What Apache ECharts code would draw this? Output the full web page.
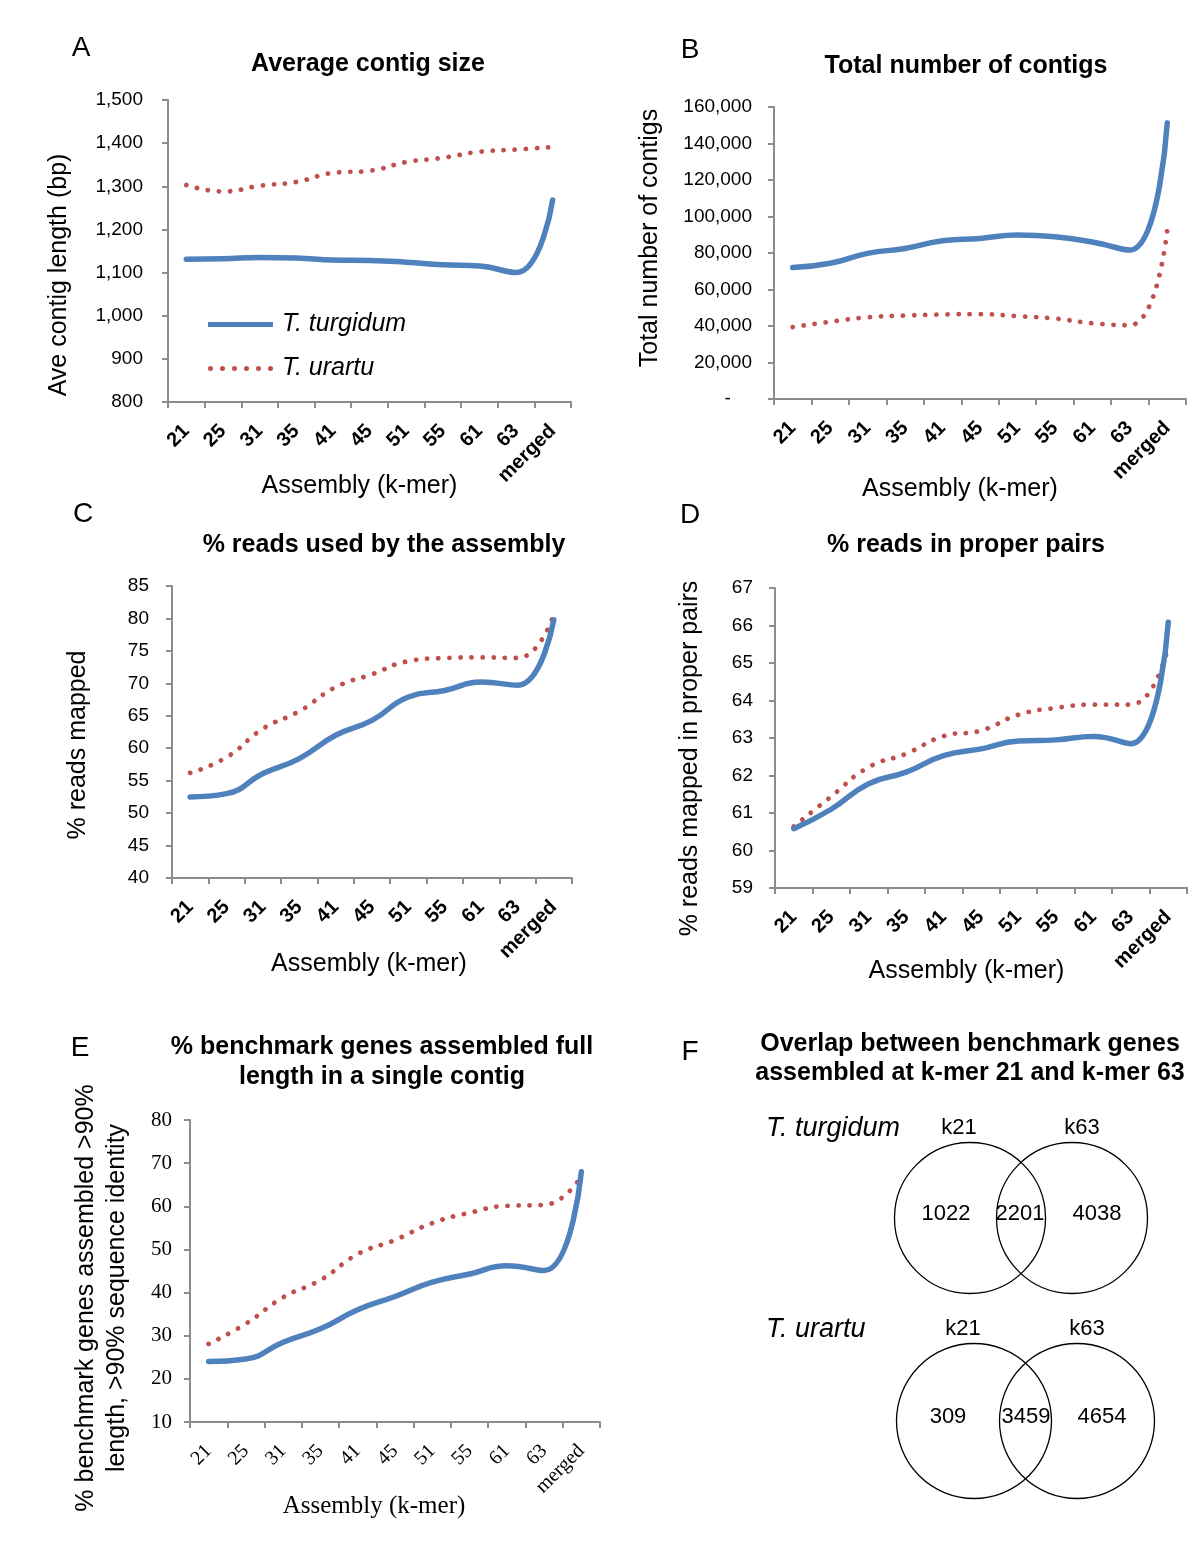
<!DOCTYPE html>
<html><head><meta charset="utf-8">
<script src="https://cdn.jsdelivr.net/npm/echarts@6/dist/echarts.min.js"></script>
<style>html,body{margin:0;padding:0;background:#fff}#c{width:1200px;height:1547px}</style>
</head><body><div id="c"></div>
<script>
// ---------- data ----------
const kmers = ['21','25','31','35','41','45','51','55','61','63','merged'];
const seriesNames = ['T. turgidum','T. urartu'];
const avgContigTurgidum = [1131,1132,1135,1134,1129,1128,1124,1118,1115,1100,1268];
const avgContigUrartu   = [1303,1288,1301,1310,1331,1336,1356,1366,1380,1385,1391];
const totalContigsTurgidum = [72000,74400,79800,82500,86700,88000,89800,88900,86000,81600,151300];
const totalContigsUrartu   = [39400,42300,44800,45700,46300,46500,45400,44100,41500,40400,92600];
const readsMappedTurgidum = [52.5,53.0,56.1,58.4,62.0,64.3,67.9,68.9,70.2,69.7,79.8];
const readsMappedUrartu   = [56.2,58.6,63.0,65.7,69.4,71.4,73.4,73.9,74.0,73.9,80.6];
const properPairsTurgidum = [60.58,61.1,61.78,62.09,62.53,62.71,62.92,62.95,63.04,62.85,66.09];
const properPairsUrartu   = [60.64,61.44,62.22,62.58,63.05,63.2,63.62,63.8,63.89,63.89,65.45];
const benchmarkTurgidum = [24.0,24.6,28.5,31.6,36.0,39.1,42.4,44.3,46.2,45.1,68.0];
const benchmarkUrartu   = [28.1,32.8,38.9,42.9,48.9,52.2,56.1,58.5,60.1,60.3,67.0];
const vennSets = ['k21','k63'];
const vennTurgidum = [1022,2201,4038];   // k21 only, both, k63 only
const vennUrartu   = [309,3459,4654];

// ---------- styles ----------
const BLUE = '#4F81BD', RED = '#C0504D', AXIS = '#8C8C8C';
const SANS = 'Liberation Sans', SERIF = 'Liberation Serif';
const comma = v => v.toLocaleString('en-US');

const panels = [
  {letter:'A', lx:81, ly:48, title:'Average contig size', tx:368, ty:64,
   grid:{left:168, top:100, width:403, height:302}, min:800, max:1500, interval:100, fmt:comma,
   yName:'Ave contig length (bp)', yGap:95, yPad:[0,48,0,0], xGap:70, xPad:[0,20,0,0], yMargin:25,
   data:[avgContigTurgidum, avgContigUrartu], font:SANS, bold:true, tickSize:19, catSize:20},
  {letter:'B', lx:690, ly:50, title:'Total number of contigs', tx:966, ty:66,
   grid:{left:774, top:107, width:412, height:292}, min:0, max:160000, interval:20000,
   fmt:v => v === 0 ? '-    ' : comma(v), yMargin:22,
   yName:'Total number of contigs', yGap:110, yPad:[0,0,0,30], xGap:76, xPad:[0,40,0,0],
   data:[totalContigsTurgidum, totalContigsUrartu], font:SANS, bold:true, tickSize:19, catSize:20},
  {letter:'C', lx:83, ly:514, title:'% reads used by the assembly', tx:384, ty:545,
   grid:{left:172, top:586, width:400, height:292}, min:40, max:85, interval:5, fmt:v => String(v), yMargin:23,
   yName:'% reads mapped', yGap:80, yPad:[0,26,0,0], xGap:72, xPad:[0,6,0,0],
   data:[readsMappedTurgidum, readsMappedUrartu], font:SANS, bold:true, tickSize:19, catSize:20},
  {letter:'D', lx:690, ly:515, title:'% reads in proper pairs', tx:966, ty:545,
   grid:{left:775, top:588, width:412, height:300}, min:59, max:67, interval:1, fmt:v => String(v), yMargin:22,
   yName:'% reads mapped in proper pairs', yGap:71, yPad:[0,41,0,0], xGap:69, xPad:[0,29,0,0],
   data:[properPairsTurgidum, properPairsUrartu], font:SANS, bold:true, tickSize:19, catSize:20},
  {letter:'E', lx:80, ly:1048, title:'% benchmark genes assembled full\nlength in a single contig', tx:382, ty:1062,
   grid:{left:190, top:1120, width:410, height:302}, min:10, max:80, interval:10, fmt:v => String(v), yMargin:18,
   yName:'% benchmark genes assembled >90%\nlength, >90% sequence identity', yGap:58, yPad:[0,54,0,0],
   yLineHeight:30.6, xGap:70, xPad:[0,42,0,0],
   data:[benchmarkTurgidum, benchmarkUrartu], font:SERIF, bold:false, tickSize:21, catSize:20}
];

const grids = [], xAxes = [], yAxes = [], series = [], graphics = [];
panels.forEach((p, i) => {
  grids.push(Object.assign({containLabel:false}, p.grid));
  xAxes.push({
    type:'category', gridIndex:i, data:kmers, boundaryGap:true,
    name:'Assembly (k-mer)', nameLocation:'middle', nameGap:p.xGap, nameMoveOverlap:false,
    nameTextStyle:{fontFamily:p.font, fontSize:25, color:'#000', lineHeight:28, padding:p.xPad},
    axisLine:{show:true, lineStyle:{color:AXIS, width:2}},
    axisTick:{show:true, alignWithLabel:false, length:6, inside:false, lineStyle:{color:AXIS, width:2}},
    axisLabel:{interval:0, rotate:45, margin:26, fontFamily:p.font, fontSize:p.catSize,
               fontWeight:p.bold ? 'bold' : 'normal', color:'#000'},
    splitLine:{show:false}
  });
  yAxes.push({
    type:'value', gridIndex:i, min:p.min, max:p.max, interval:p.interval,
    name:p.yName, nameLocation:'middle', nameGap:p.yGap, nameRotate:90, nameMoveOverlap:false,
    nameTextStyle:{fontFamily:SANS, fontSize:25, color:'#000', lineHeight:p.yLineHeight || 28, padding:p.yPad},
    axisLine:{show:true, lineStyle:{color:AXIS, width:2}},
    axisTick:{show:true, length:6, inside:false, lineStyle:{color:AXIS, width:2}},
    axisLabel:{formatter:p.fmt, margin:p.yMargin, fontFamily:p.font, fontSize:p.tickSize, color:'#000'},
    splitLine:{show:false}
  });
  series.push({
    type:'line', name:seriesNames[0], xAxisIndex:i, yAxisIndex:i, data:p.data[0],
    smooth:0.5, symbol:'none', z:3,
    lineStyle:{color:BLUE, width:5.5, cap:'round'}, itemStyle:{color:BLUE}
  });
  series.push({
    type:'line', name:seriesNames[1], xAxisIndex:i, yAxisIndex:i, data:p.data[1],
    smooth:0.5, symbol:'none', z:2,
    lineStyle:{color:RED, width:4.8, type:[0.1, 11], cap:'round'}, itemStyle:{color:RED}
  });
  graphics.push({type:'text', x:p.lx, y:p.ly,
    style:{text:p.letter, font:'28px "Liberation Sans"', fill:'#000', align:'center', verticalAlign:'middle'}});
  graphics.push({type:'text', x:p.tx, y:p.ty,
    style:{text:p.title, font:'bold 25px "Liberation Sans"', fill:'#000', align:'center', verticalAlign:'middle', lineHeight:30}});
});

// ---------- panel F (Venn) ----------
graphics.push({type:'text', x:690, y:1052,
  style:{text:'F', font:'28px "Liberation Sans"', fill:'#000', align:'center', verticalAlign:'middle'}});
graphics.push({type:'text', x:970, y:1059,
  style:{text:'Overlap between benchmark genes\nassembled at k-mer 21 and k-mer 63', font:'bold 25px "Liberation Sans"',
         fill:'#000', align:'center', verticalAlign:'middle', lineHeight:29}});
const venns = [
  {name:seriesNames[0], counts:vennTurgidum, nameY:1128, cy:1218, cL:970, cR:1072, r:75.5,
   k21x:959, k63x:1082, numX:[946,1020,1097], numY:1214},
  {name:seriesNames[1], counts:vennUrartu, nameY:1329, cy:1421, cL:974, cR:1077, r:77.5,
   k21x:963, k63x:1087, numX:[948,1026,1102], numY:1417}
];
venns.forEach(v => {
  graphics.push({type:'text', x:766, y:v.nameY,
    style:{text:v.name, font:'italic 27px "Liberation Sans"', fill:'#000', align:'left', verticalAlign:'middle'}});
  graphics.push({type:'text', x:v.k21x, y:v.nameY,
    style:{text:vennSets[0], font:'22px "Liberation Sans"', fill:'#000', align:'center', verticalAlign:'middle'}});
  graphics.push({type:'text', x:v.k63x, y:v.nameY,
    style:{text:vennSets[1], font:'22px "Liberation Sans"', fill:'#000', align:'center', verticalAlign:'middle'}});
  [v.cL, v.cR].forEach(cx => graphics.push({type:'circle', shape:{cx:cx, cy:v.cy, r:v.r},
    style:{fill:'none', stroke:'#000', lineWidth:1.3}}));
  v.counts.forEach((c, j) => graphics.push({type:'text', x:v.numX[j], y:v.numY,
    style:{text:String(c), font:'22px "Liberation Sans"', fill:'#000', align:'center', verticalAlign:'middle'}}));
});

// legend icons: solid bar for T. turgidum, a row of round dots for T. urartu
let dots = '';
for (let k = 0; k < 6; k++) {
  const cx = 2.5 + k * 12;
  dots += 'M' + (cx - 2.5) + ',2.5 A2.5,2.5 0 1,1 ' + (cx + 2.5) + ',2.5 A2.5,2.5 0 1,1 ' + (cx - 2.5) + ',2.5 Z ';
}

const chart = echarts.init(document.getElementById('c'), null, {renderer:'canvas'});
chart.setOption({
  backgroundColor:'#fff',
  animation:false,
  grid:grids, xAxis:xAxes, yAxis:yAxes, series:series,
  legend:{
    data:[
      {name:seriesNames[0], icon:'path://M0,0 L65,0 L65,5 L0,5 Z', itemStyle:{color:BLUE}},
      {name:seriesNames[1], icon:'path://' + dots, itemStyle:{color:RED}}
    ],
    orient:'vertical', left:203, top:307, itemWidth:65, itemHeight:5, itemGap:19,
    textStyle:{fontFamily:SANS, fontSize:25, fontStyle:'italic', color:'#000', padding:[0,0,0,4]}
  },
  graphic:graphics
});
</script>
</body></html>
